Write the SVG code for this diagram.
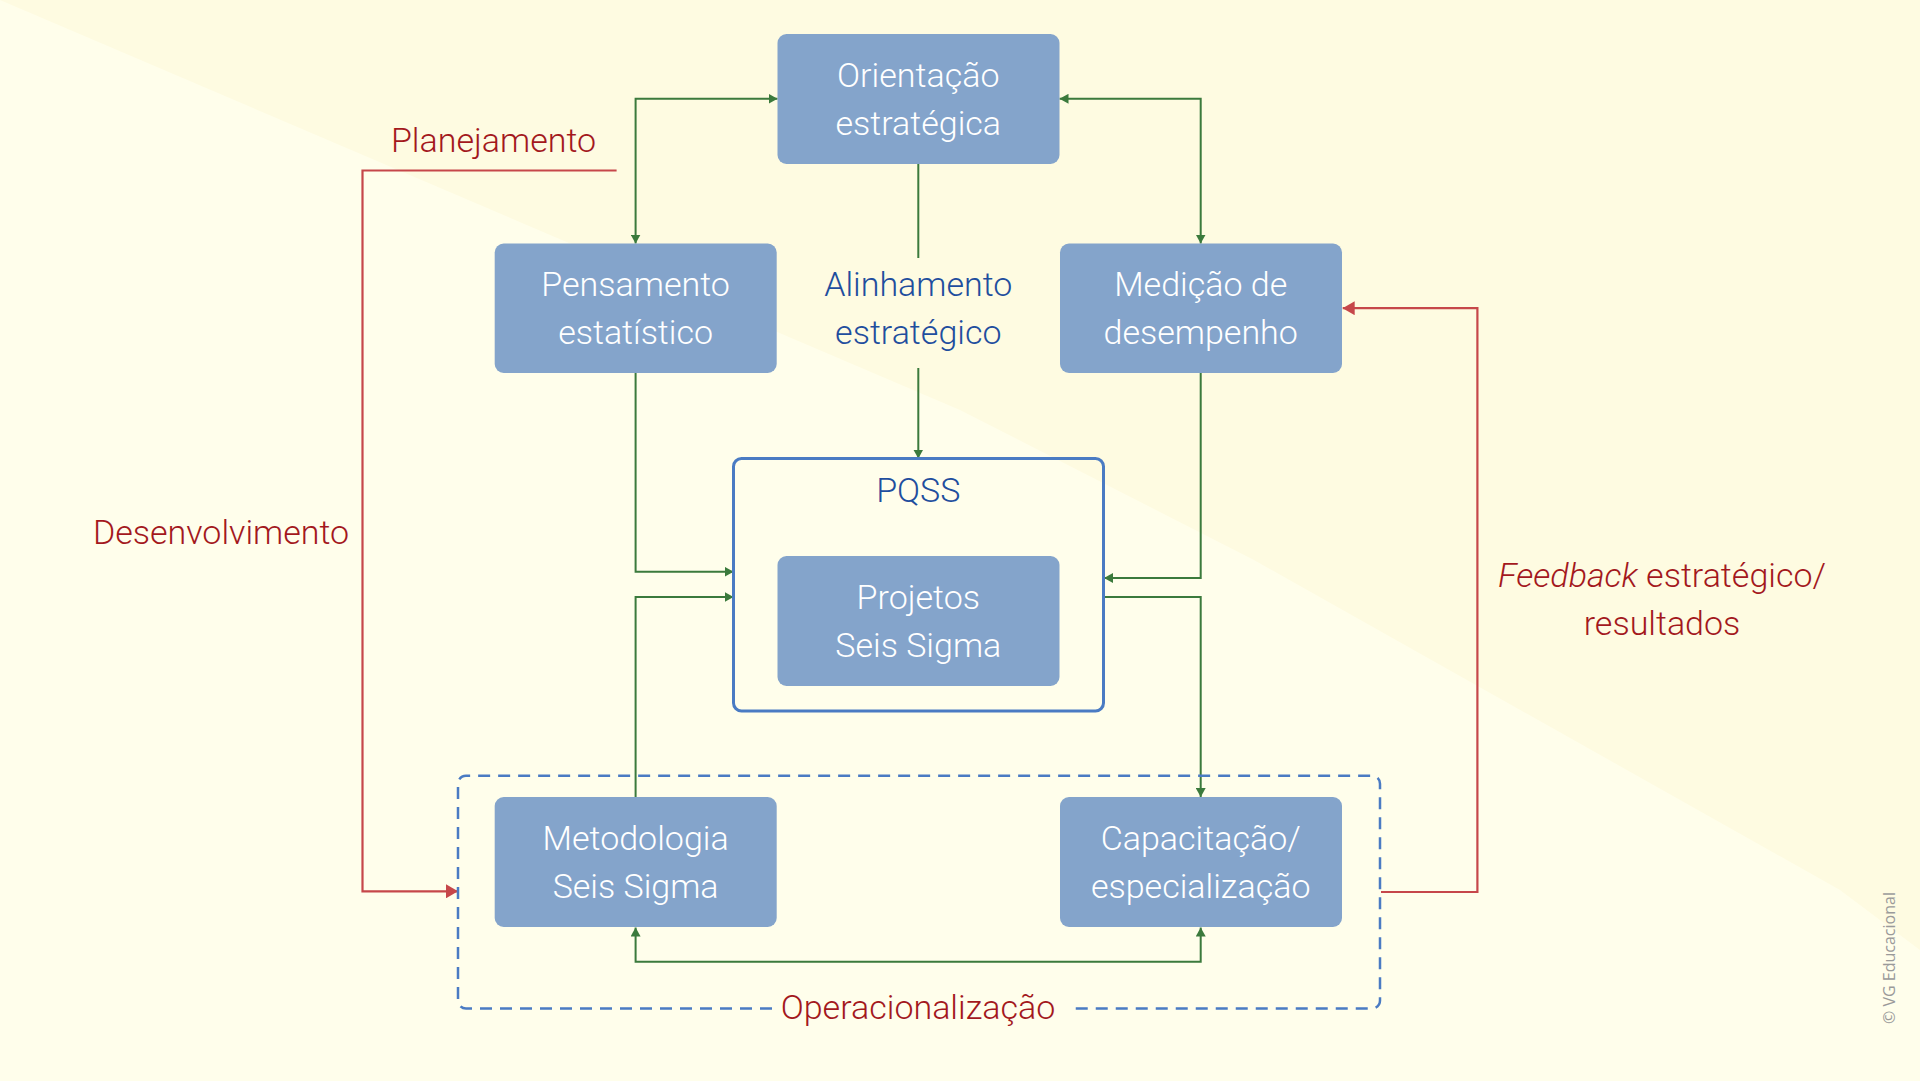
<svg xmlns="http://www.w3.org/2000/svg" width="1920" height="1081" viewBox="0 0 1920 1081">
<defs>
<style>
.node rect{fill:#84A4CB;}
.node text{fill:#FFFFFF;font-family:Roboto,"Liberation Sans",sans-serif;font-weight:300;font-size:34px;text-anchor:middle;}
.lbl{font-family:Roboto,"Liberation Sans",sans-serif;font-weight:300;font-size:34px;text-anchor:middle;}
.red{fill:#A3181D;}
.blue{fill:#1F4E9E;}
.g{fill:none;stroke:#3B7A3C;stroke-width:2;}
.r{fill:none;stroke:#C6474A;stroke-width:2.2;}
</style>
<marker id="ag" markerUnits="userSpaceOnUse" markerWidth="9" markerHeight="10" refX="9" refY="5" orient="auto-start-reverse">
<path d="M0,0 L9,5 L0,10 z" fill="#3B7A3C"/>
</marker>
<marker id="ar" markerUnits="userSpaceOnUse" markerWidth="12" markerHeight="14" refX="12" refY="7" orient="auto-start-reverse">
<path d="M0,0 L12,7 L0,14 z" fill="#C6474A"/>
</marker>
</defs>
<rect x="0" y="0" width="1920" height="1081" fill="#FFFEEB"/>
<polygon points="0,0 1920,0 1920,950 1840,890 1254,560 960,410" fill="#FEFBE1"/>

<g id="connectors">
<path class="g" d="M635.6,243.5 V98.8 H777.5" marker-start="url(#ag)" marker-end="url(#ag)"/>
<path class="g" d="M1059.5,98.8 H1200.7 V243.5" marker-start="url(#ag)" marker-end="url(#ag)"/>
<path class="g" d="M918.3,164 V258"/>
<path class="g" d="M918.3,368 V458.5" marker-end="url(#ag)"/>
<path class="g" d="M635.6,373 V571.7 H733.5" marker-end="url(#ag)"/>
<path class="g" d="M635.6,797 V597 H733.5" marker-end="url(#ag)"/>
<path class="g" d="M1200.7,373 V578 H1104" marker-end="url(#ag)"/>
<path class="g" d="M1104,597 H1200.7 V797" marker-end="url(#ag)"/>
<path class="g" d="M635.6,927.5 V961.7 H1200.7 V927.5" marker-start="url(#ag)" marker-end="url(#ag)"/>
<path class="r" d="M616.6,170.5 H362.5 V891.3 H458" marker-end="url(#ar)"/>
<path class="r" d="M1381,892 H1477.4 V308.2 H1342.7" marker-end="url(#ar)"/>
</g>

<g id="operacionalizacao">
<path d="M772,1008.6 H466 A8,8 0 0 1 458,1000.6 V783.7 A8,8 0 0 1 466,775.7 H1372 A8,8 0 0 1 1380,783.7 V1000.6 A8,8 0 0 1 1372,1008.6 H1070" fill="none" stroke="#4A7BC3" stroke-width="2.5" stroke-dasharray="12 8"/>
<text class="lbl red" x="918" y="1019">Operacionalização</text>
</g>

<g id="pqss">
<rect x="733.5" y="458.5" width="370" height="252.5" rx="8" fill="none" stroke="#4A7BC3" stroke-width="3"/>
<text class="lbl blue" x="918.3" y="502">PQSS</text>
</g>

<g id="orientacao" class="node">
<rect x="777.5" y="34" width="282" height="130" rx="9"/>
<text x="918.3" y="87">Orientação</text>
<text x="918.3" y="135">estratégica</text>
</g>
<g id="pensamento" class="node">
<rect x="494.7" y="243.5" width="282" height="129.5" rx="9"/>
<text x="635.6" y="296">Pensamento</text>
<text x="635.6" y="344">estatístico</text>
</g>
<g id="medicao" class="node">
<rect x="1060" y="243.5" width="282" height="129.5" rx="9"/>
<text x="1200.7" y="296">Medição de</text>
<text x="1200.7" y="344">desempenho</text>
</g>
<g id="projetos" class="node">
<rect x="777.5" y="556" width="282" height="130" rx="9"/>
<text x="918.3" y="609">Projetos</text>
<text x="918.3" y="657">Seis Sigma</text>
</g>
<g id="metodologia" class="node">
<rect x="494.7" y="797" width="282" height="130" rx="9"/>
<text x="635.6" y="850">Metodologia</text>
<text x="635.6" y="898">Seis Sigma</text>
</g>
<g id="capacitacao" class="node">
<rect x="1060" y="797" width="282" height="130" rx="9"/>
<text x="1200.7" y="850">Capacitação/</text>
<text x="1200.7" y="898">especialização</text>
</g>

<g id="alinhamento">
<text class="lbl blue" x="918.3" y="296">Alinhamento</text>
<text class="lbl blue" x="918.3" y="344">estratégico</text>
</g>
<g id="planejamento">
<text class="lbl red" x="493.5" y="151.5">Planejamento</text>
</g>
<g id="desenvolvimento">
<text class="lbl red" x="221" y="544">Desenvolvimento</text>
</g>
<g id="feedback">
<text class="lbl red" x="1662" y="586.6"><tspan font-style="italic">Feedback</tspan> estratégico/</text>
<text class="lbl red" x="1662" y="634.9">resultados</text>
</g>
<text x="1895" y="958" transform="rotate(-90 1895 958)" font-family="'Open Sans','Liberation Sans',sans-serif" font-size="16" fill="#9A9A9A" text-anchor="middle">© VG Educacional</text>
</svg>
